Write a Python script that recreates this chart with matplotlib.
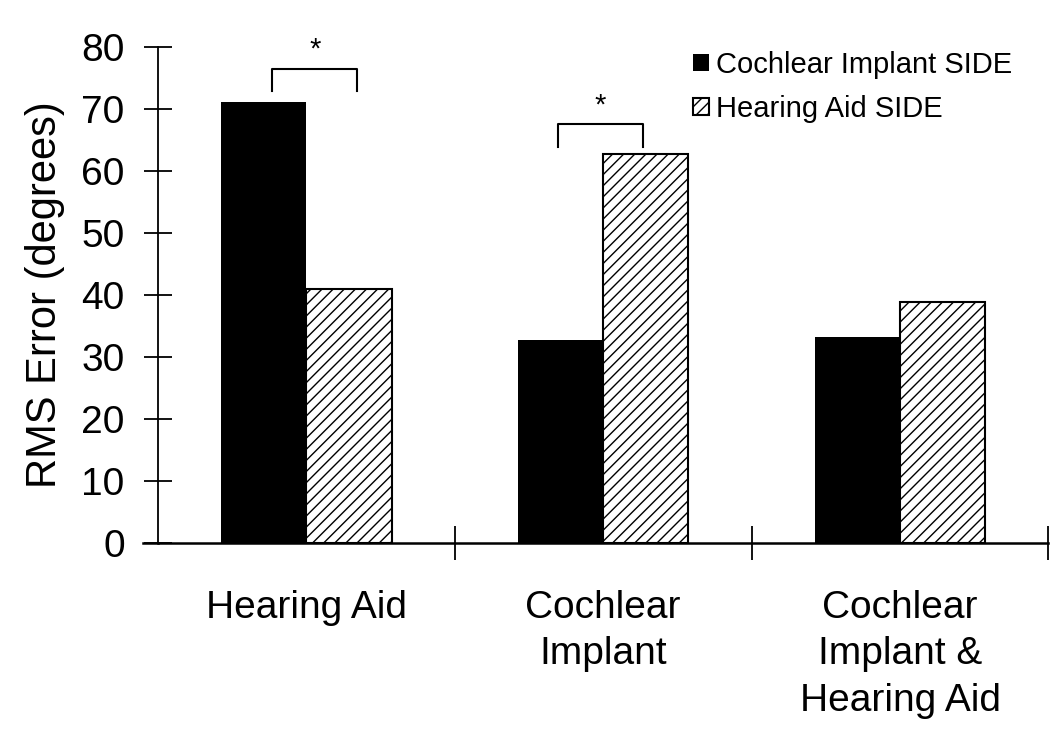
import numpy as np
import matplotlib
matplotlib.use("Agg")
import matplotlib.pyplot as plt

plt.rcParams['font.family'] = ['Liberation Sans', 'DejaVu Sans']
plt.rcParams['hatch.linewidth'] = 1.0

# data
groups = ["Hearing Aid", "Cochlear\nImplant", "Cochlear\nImplant &\nHearing Aid"]
ci_side = [71.1, 32.7, 33.3]   # Cochlear Implant SIDE (black)
ha_side = [41.0, 62.8, 38.9]   # Hearing Aid SIDE (hatched)
series_names = ["Cochlear Implant SIDE", "Hearing Aid SIDE"]
yticks = [0, 10, 20, 30, 40, 50, 60, 70, 80]

# significance brackets: (left x, right x, bottom y, top y, group)
sig_groups = [0, 1]
sig_left = [-0.115, -0.152]
sig_right = [0.172, 0.135]
sig_bottom = [72.9, 63.9]
sig_top = [76.5, 67.6]
star_dx = [0.03, -0.01]
star_y = [79.6, 70.6]

fig = plt.figure(figsize=(10.5, 7.4), dpi=100)
ax = fig.add_axes([0.1505, 0.266, 0.848, 0.6705])

x = np.arange(len(groups))
w = 0.287
ax.bar(x - w, ci_side, w, align='edge', color='black', edgecolor='black',
       linewidth=0, label=series_names[0])
ax.bar(x, ha_side, w, align='edge', color='white', edgecolor='black',
       hatch='///', linewidth=1.5, label=series_names[1])

# brackets with asterisks
for g, l, r, bt, tp, dx, sy in zip(sig_groups, sig_left, sig_right, sig_bottom,
                                    sig_top, star_dx, star_y):
    ax.plot([g + l, g + l, g + r, g + r], [bt, tp, tp, bt], color='black', lw=1.5,
            clip_on=False)
    ax.text(g + dx, sy, '*', ha='center', va='center', fontsize=21, clip_on=False)

ax.set_xlim(-0.5, 2.5)
ax.set_ylim(0, 80)
ax.set_yticks(yticks)
ax.tick_params(axis='y', direction='inout', length=20, width=1.3, labelsize=28, pad=14)
ax.set_xticks(x)
ax.set_xticklabels(groups, fontsize=28, linespacing=1.36, va='top')
ax.tick_params(axis='x', length=0, pad=34)
ax.set_xticks([0.5, 1.5, 2.5], minor=True)
ax.tick_params(axis='x', which='minor', direction='inout', length=24, width=1.3)

for s in ['top', 'right']:
    ax.spines[s].set_visible(False)
ax.spines['left'].set_linewidth(1.3)
ax.spines['bottom'].set_linewidth(1.8)
# the baseline runs a little past the y axis on the left
ax.plot([-0.55, -0.5], [0, 0], color='black', lw=1.8, clip_on=False)

ax.set_ylabel("RMS Error (degrees)", fontsize=30, labelpad=12)

ax.legend(loc='upper left', bbox_to_anchor=(0.646, 0.951), bbox_transform=fig.transFigure,
          frameon=False, fontsize=21, handlelength=0.55, handleheight=0.55,
          handletextpad=0.25, labelspacing=0.55, borderpad=0)

fig.savefig("out.png", dpi=100)
